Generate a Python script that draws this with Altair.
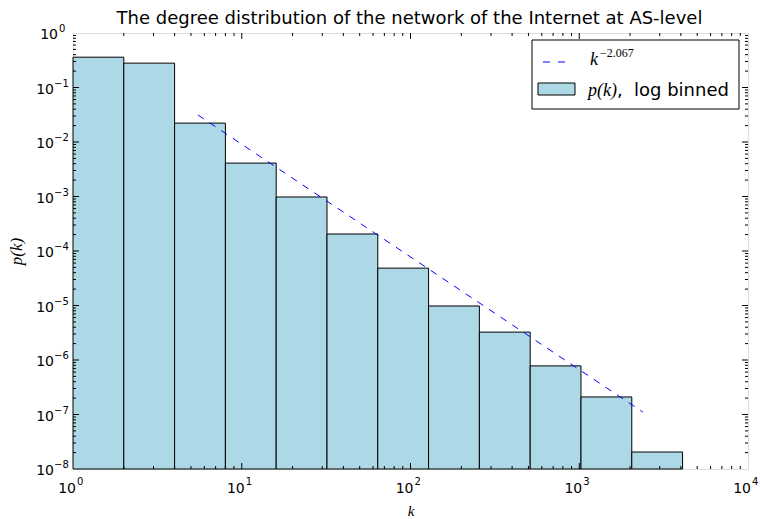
import altair as alt
import pandas as pd

# ---- data ----
bin_lo = [1, 2, 4, 8, 16, 32, 64, 128, 256, 512, 1024, 2048]
bin_hi = [2, 4, 8, 16, 32, 64, 128, 256, 512, 1024, 2048, 4096]
pk = [0.36, 0.28, 0.0222, 0.0041, 0.00098, 0.000205, 4.85e-5, 9.8e-6,
      3.25e-6, 7.8e-7, 2.1e-7, 2.05e-8]
fit_k = [5.5, 2380]
fit_p = [0.0313, 1.11e-7]

x_major = [1, 10, 100, 1000, 10000]
x_exp = ["0", "1", "2", "3", "4"]
y_major = [1e-8, 1e-7, 1e-6, 1e-5, 1e-4, 1e-3, 1e-2, 1e-1, 1]
y_exp = ["−8", "−7", "−6", "−5", "−4", "−3", "−2", "−1", "0"]
x_minor = [m * 10 ** e for e in range(0, 4) for m in range(2, 10)]
y_minor = [m * 10.0 ** e for e in range(-8, 0) for m in range(2, 10)]

title_text = "The degree distribution of the network of the Internet at AS-level"

W, H = 675, 436

xscale = alt.Scale(type="log", domain=[1, 10000], nice=False)
yscale = alt.Scale(type="log", domain=[1e-8, 1], nice=False)

bars_df = pd.DataFrame({"lo": bin_lo, "hi": bin_hi, "p": pk})
fit_df = pd.DataFrame({"k": fit_k, "p": fit_p})
xlab_df = pd.DataFrame({"v": x_major, "e": x_exp})
ylab_df = pd.DataFrame({"v": y_major, "e": y_exp})

x_axis = alt.Axis(values=x_major, labels=False, ticks=False, domain=False, grid=False,
                  title="k", titleFont="Liberation Serif", titleFontStyle="italic",
                  titleFontWeight="normal", titleFontSize=15, titlePadding=46,
                  titleBaseline="alphabetic", titleColor="black")
y_axis = alt.Axis(values=y_major, labels=False, ticks=False, domain=False, grid=False,
                  title="p(k)", titleFont="Liberation Serif", titleFontStyle="italic",
                  titleFontWeight="normal", titleFontSize=17, titlePadding=48,
                  titleColor="black")

bars = alt.Chart(bars_df).mark_rect(fill="#add8e6", stroke="black", strokeWidth=1).encode(
    x=alt.X("lo:Q", scale=xscale, axis=x_axis),
    x2="hi:Q",
    y=alt.Y("p:Q", scale=yscale, axis=y_axis),
    y2=alt.datum(1e-8),
)

fit = alt.Chart(fit_df).mark_line(color="blue", strokeWidth=1, strokeDash=[7, 7]).encode(
    x=alt.X("k:Q", scale=xscale),
    y=alt.Y("p:Q", scale=yscale),
)


def xticks(vals, length, top):
    d = pd.DataFrame({"v": vals})
    y0, y1 = (0, length) if top else (H, H - length)
    return alt.Chart(d).mark_rule(color="black", strokeWidth=1).encode(
        x=alt.X("v:Q", scale=xscale), y=alt.value(y0), y2=alt.value(y1))


def yticks(vals, length, right):
    d = pd.DataFrame({"v": vals})
    x0, x1 = (W, W - length) if right else (0, length)
    return alt.Chart(d).mark_rule(color="black", strokeWidth=1).encode(
        y=alt.Y("v:Q", scale=yscale), x=alt.value(x0), x2=alt.value(x1))


ticks = [
    xticks(x_major[1:-1], 6, False), xticks(x_major[1:-1], 6, True),
    xticks(x_minor, 3, False), xticks(x_minor, 3, True),
    yticks(y_major[1:-1], 6, False), yticks(y_major[1:-1], 6, True),
    yticks(y_minor, 3, False), yticks(y_minor, 3, True),
]

# tick labels: "10" with a raised exponent
lab_font = "DejaVu Sans"
xl_base = alt.Chart(xlab_df).mark_text(
    text="10", font=lab_font, fontSize=14, align="right", baseline="alphabetic",
    dx=3, color="black").encode(x=alt.X("v:Q", scale=xscale), y=alt.value(H + 24))
xl_exp = alt.Chart(xlab_df).mark_text(
    font=lab_font, fontSize=10, align="left", baseline="alphabetic",
    dx=4, color="black").encode(x=alt.X("v:Q", scale=xscale), y=alt.value(H + 16), text="e:N")

yl_base_neg = alt.Chart(ylab_df).transform_filter("datum.v < 0.5").mark_text(
    text="10", font=lab_font, fontSize=14, align="right", baseline="alphabetic",
    dy=6, color="black").encode(y=alt.Y("v:Q", scale=yscale), x=alt.value(-19))
yl_exp_neg = alt.Chart(ylab_df).transform_filter("datum.v < 0.5").mark_text(
    font=lab_font, fontSize=10, align="left", baseline="alphabetic",
    dy=-1, color="black").encode(y=alt.Y("v:Q", scale=yscale), x=alt.value(-19), text="e:N")
yl_base_pos = alt.Chart(ylab_df).transform_filter("datum.v >= 0.5").mark_text(
    text="10", font=lab_font, fontSize=14, align="right", baseline="alphabetic",
    dy=6, color="black").encode(y=alt.Y("v:Q", scale=yscale), x=alt.value(-15))
yl_exp_pos = alt.Chart(ylab_df).transform_filter("datum.v >= 0.5").mark_text(
    font=lab_font, fontSize=10, align="left", baseline="alphabetic",
    dy=-1, color="black").encode(y=alt.Y("v:Q", scale=yscale), x=alt.value(-14), text="e:N")

# title
one = pd.DataFrame({"a": [0]})
title = alt.Chart(one).mark_text(
    text=title_text, font="DejaVu Sans", fontSize=18, align="center",
    baseline="alphabetic", color="black").encode(x=alt.value(W / 2 - 1), y=alt.value(-9))

# legend box
leg_box = alt.Chart(one).mark_rect(fill="white", stroke="black", strokeWidth=1).encode(
    x=alt.value(459), x2=alt.value(666), y=alt.value(7), y2=alt.value(76))
leg_line = alt.Chart(one).mark_rule(color="blue", strokeWidth=1, strokeDash=[7, 8]).encode(
    x=alt.value(470), x2=alt.value(494), y=alt.value(29))
leg_swatch = alt.Chart(one).mark_rect(fill="#add8e6", stroke="black", strokeWidth=1).encode(
    x=alt.value(465), x2=alt.value(502), y=alt.value(50), y2=alt.value(62))
leg_k = alt.Chart(one).mark_text(text="k", font="Liberation Serif", fontStyle="italic",
                                 fontSize=18, align="left", baseline="alphabetic",
                                 color="black").encode(x=alt.value(517), y=alt.value(32))
leg_exp = alt.Chart(one).mark_text(text="−2.067", font="Liberation Serif",
                                   fontSize=12, align="left", baseline="alphabetic",
                                   color="black").encode(x=alt.value(527), y=alt.value(24))
leg_p = alt.Chart(one).mark_text(text="p(k)", font="Liberation Serif", fontStyle="italic",
                                 fontSize=18, align="left", baseline="alphabetic",
                                 color="black").encode(x=alt.value(515), y=alt.value(63))
leg_comma = alt.Chart(one).mark_text(text=",", font="DejaVu Sans",
                                     fontSize=18, align="left", baseline="alphabetic",
                                     color="black").encode(x=alt.value(544), y=alt.value(63))
leg_lb = alt.Chart(one).mark_text(text="log binned", font="DejaVu Sans",
                                  fontSize=18, align="left", baseline="alphabetic",
                                  color="black").encode(x=alt.value(561), y=alt.value(63))

chart = alt.layer(
    bars, fit, *ticks,
    xl_base, xl_exp, yl_base_neg, yl_exp_neg, yl_base_pos, yl_exp_pos, title,
    leg_box, leg_line, leg_swatch, leg_k, leg_exp, leg_p, leg_comma, leg_lb
).properties(
    width=W, height=H,
    autosize=alt.AutoSizeParams(type="none"),
    padding={"left": 73, "top": 33, "right": 12, "bottom": 50},
).configure_view(stroke="black", strokeWidth=1.2).configure(background="white")

chart.save("out.html", embed_options={"renderer": "svg", "actions": False})
